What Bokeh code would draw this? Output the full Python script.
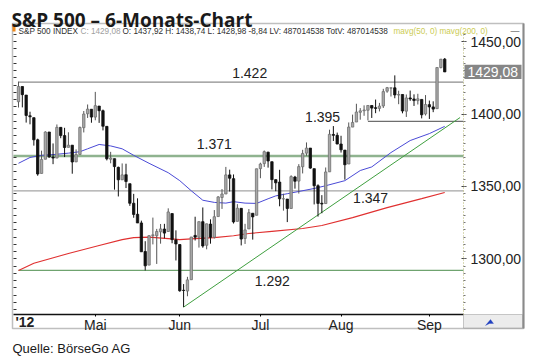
import numpy as np
from bokeh.plotting import figure
from bokeh.models import (Range1d, LinearAxis, FixedTicker, Label, BoxAnnotation,
                          PolyAnnotation, ColumnDataSource)
from bokeh.embed import file_html
from bokeh.resources import INLINE

# ---------------- data ----------------
month_names = ["Apr", "Mai", "Jun", "Jul", "Aug", "Sep"]
month_days = {
    "Apr": [2, 3, 4, 5, 9, 10, 11, 12, 13, 16, 17, 18, 19, 20, 23, 24, 25, 26, 27, 30],
    "Mai": [1, 2, 3, 4, 7, 8, 9, 10, 11, 14, 15, 16, 17, 18, 21, 22, 23, 24, 25, 29, 30, 31],
    "Jun": [1, 4, 5, 6, 7, 8, 11, 12, 13, 14, 15, 18, 19, 20, 21, 22, 25, 26, 27, 28, 29],
    "Jul": [2, 3, 5, 6, 9, 10, 11, 12, 13, 16, 17, 18, 19, 20, 23, 24, 25, 26, 27, 30, 31],
    "Aug": [1, 2, 3, 6, 7, 8, 9, 10, 13, 14, 15, 16, 17, 20, 21, 22, 23, 24, 27, 28, 29, 30, 31],
    "Sep": [4, 5, 6, 7, 10],
}
tick_months = ["Mai", "Jun", "Jul", "Aug", "Sep"]
year_label = "'12"

opens = [1408.5, 1419.0, 1413.1, 1398.8, 1397.5, 1382.2, 1359.0, 1368.8, 1387.6, 1370.3,
         1369.6, 1390.8, 1385.1, 1377.0, 1378.5, 1367.0, 1372.1, 1390.6, 1400.2, 1403.3,
         1397.9, 1405.5, 1402.3, 1391.5, 1368.8, 1369.2, 1363.2, 1354.6, 1358.1, 1351.9,
         1338.4, 1330.8, 1324.8, 1305.1, 1295.7, 1316.1, 1316.0, 1318.7, 1320.6, 1318.9,
         1331.3, 1313.1,
         1309.9, 1278.3, 1277.8, 1285.6, 1316.2, 1315.0, 1325.7, 1309.4, 1324.0, 1314.9,
         1329.2, 1342.4, 1344.8, 1358.0, 1355.4, 1325.9, 1334.9, 1314.1, 1320.7, 1331.5,
         1330.1,
         1362.3, 1365.8, 1373.7, 1367.1, 1354.7, 1353.0, 1341.4, 1341.3, 1334.8, 1356.5,
         1353.7, 1363.6, 1373.0, 1376.5, 1362.3, 1350.5, 1338.4, 1338.2, 1360.1, 1385.9,
         1385.3,
         1379.3, 1375.1, 1365.5, 1391.0, 1394.5, 1401.2, 1402.3, 1402.6, 1405.9, 1404.4,
         1403.9, 1405.6, 1415.8, 1417.9, 1418.1, 1413.1, 1413.5, 1402.0, 1411.1, 1410.4,
         1409.3, 1410.1, 1400.1,
         1406.5, 1404.9, 1403.7, 1432.1, 1437.9]
highs = [1422.4, 1419.0, 1413.1, 1401.6, 1397.5, 1383.0, 1374.7, 1388.1, 1387.6, 1379.7,
         1392.8, 1390.8, 1390.5, 1387.4, 1378.5, 1375.6, 1391.4, 1402.1, 1406.6, 1403.3,
         1415.3, 1405.5, 1403.1, 1391.5, 1373.9, 1369.2, 1363.7, 1365.9, 1365.7, 1351.9,
         1344.9, 1341.8, 1326.4, 1312.2, 1316.4, 1328.5, 1320.7, 1324.1, 1324.2, 1334.9,
         1331.3, 1319.7,
         1309.9, 1282.6, 1287.6, 1315.1, 1329.1, 1325.8, 1335.5, 1324.3, 1327.3, 1333.7,
         1343.3, 1348.2, 1363.5, 1361.6, 1358.3, 1337.8, 1334.9, 1324.2, 1334.4, 1331.5,
         1362.2,
         1366.4, 1374.8, 1373.9, 1367.1, 1354.9, 1361.5, 1345.0, 1341.3, 1357.7, 1357.3,
         1365.4, 1375.3, 1380.4, 1376.5, 1362.3, 1351.5, 1344.0, 1363.1, 1389.2, 1391.7,
         1387.2,
         1385.0, 1375.1, 1394.2, 1399.6, 1407.1, 1404.1, 1406.0, 1406.0, 1405.9, 1410.0,
         1407.7, 1417.4, 1418.7, 1418.1, 1426.7, 1416.1, 1413.5, 1413.5, 1416.2, 1413.6,
         1414.0, 1410.1, 1413.1,
         1409.3, 1408.8, 1432.1, 1437.9, 1438.7]
lows = [1404.5, 1404.6, 1394.1, 1392.9, 1378.2, 1357.4, 1359.0, 1368.8, 1369.9, 1365.4,
        1369.6, 1383.3, 1370.3, 1377.0, 1358.8, 1366.8, 1372.1, 1387.3, 1397.3, 1394.0,
        1395.7, 1393.9, 1388.7, 1368.0, 1366.0, 1347.8, 1343.1, 1354.6, 1348.9, 1336.6,
        1328.4, 1324.8, 1304.9, 1292.0, 1295.7, 1310.0, 1296.5, 1310.5, 1314.2, 1318.9,
        1310.8, 1298.9,
        1277.3, 1266.7, 1274.2, 1285.6, 1312.7, 1307.8, 1307.7, 1306.6, 1310.5, 1314.1,
        1329.2, 1334.5, 1344.8, 1346.5, 1324.4, 1325.9, 1309.3, 1310.3, 1320.7, 1313.3,
        1330.1,
        1355.7, 1363.5, 1363.0, 1348.0, 1346.7, 1336.3, 1333.3, 1325.4, 1334.8, 1348.5,
        1345.1, 1359.0, 1371.2, 1362.2, 1337.6, 1329.2, 1331.5, 1338.2, 1360.1, 1381.4,
        1379.2,
        1373.4, 1354.7, 1365.5, 1391.0, 1394.5, 1396.1, 1398.8, 1395.6, 1397.3, 1400.6,
        1401.8, 1404.2, 1414.7, 1412.1, 1410.9, 1406.8, 1400.5, 1398.0, 1409.1, 1405.6,
        1406.6, 1397.0, 1399.0,
        1396.6, 1401.3, 1403.7, 1431.5, 1429.0]
closes = [1419.0, 1413.4, 1399.0, 1398.1, 1382.2, 1358.6, 1368.7, 1387.6, 1370.3, 1369.6,
          1390.8, 1385.1, 1376.9, 1378.5, 1366.9, 1372.0, 1390.7, 1400.0, 1403.4, 1397.9,
          1405.8, 1402.3, 1391.6, 1369.1, 1369.6, 1363.7, 1354.6, 1358.0, 1353.4, 1338.4,
          1330.7, 1324.8, 1304.9, 1295.2, 1316.0, 1316.6, 1318.9, 1320.7, 1317.8, 1332.4,
          1313.3, 1310.3,
          1278.0, 1278.2, 1285.5, 1315.1, 1315.0, 1325.7, 1308.9, 1324.2, 1314.9, 1329.1,
          1342.8, 1344.8, 1358.0, 1355.7, 1325.5, 1335.0, 1313.7, 1320.0, 1331.9, 1329.0,
          1362.2,
          1365.5, 1374.0, 1367.6, 1354.7, 1352.5, 1341.5, 1341.5, 1334.8, 1356.8, 1353.6,
          1363.7, 1372.8, 1376.5, 1362.7, 1350.5, 1338.3, 1337.9, 1360.0, 1386.0, 1385.3,
          1379.3,
          1375.3, 1365.0, 1391.0, 1394.2, 1401.4, 1402.2, 1402.8, 1405.9, 1404.1, 1403.9,
          1405.5, 1415.5, 1418.2, 1418.1, 1413.2, 1413.5, 1402.1, 1411.1, 1410.4, 1409.3,
          1410.5, 1399.5, 1406.6,
          1404.9, 1403.4, 1432.1, 1437.9, 1429.1]

# moving averages (trading-day index, value)
ma50_idx = [0, 3, 6, 9, 13, 16, 18, 21, 24, 27, 30, 34, 39, 42, 45, 48, 51, 54, 56, 59,
            62, 65, 67, 70, 77, 80, 85, 89, 92, 97, 102, 107, 111]
ma50_val = [1366.0, 1370.0, 1371.5, 1372.0, 1373.0, 1374.0, 1376.0, 1379.0, 1378.0, 1376.0,
            1371.5, 1366.0, 1359.5, 1354.0, 1347.0, 1340.5, 1339.0, 1338.5, 1339.5, 1338.5,
            1338.3, 1341.5, 1343.5, 1345.0, 1348.6, 1350.5, 1354.0, 1361.0, 1363.5, 1373.4,
            1381.7, 1386.5, 1391.5]
ma200_idx = [0, 4, 13, 21, 27, 30, 34, 39, 42, 46, 51, 56, 60, 66, 74, 79, 87, 96, 105, 111]
ma200_val = [1292.0, 1297.0, 1303.7, 1309.2, 1313.3, 1314.7, 1315.0, 1314.0, 1313.3, 1314.0,
             1314.7, 1316.0, 1317.5, 1319.0, 1321.0, 1323.0, 1328.5, 1335.4, 1341.6, 1345.8]

# support / resistance levels and trend line
levels = [1422, 1395, 1371, 1347, 1292]
level_labels = ["1.422", "1.395", "1.371", "1.347", "1.292"]
level_start_idx = [0, 91, -1.3, -1.3, 0]
trend_idx = [43, 115]
trend_val = [1266.7, 1397.6]

last_close = 1429.08
y_ticks = [1300, 1350, 1400, 1450]

header_parts = [
    ("S&P 500 INDEX", "#2e2e2e"),
    ("C: 1429,08", "#a0a0a0"),
    ("O: 1437,92 H: 1438,74 L: 1428,98 -8,84 LV: 487014538 TotV: 487014538", "#2e2e2e"),
    ("mavg(50, 0) mavg(200, 0)", "#cccc55"),
]

# ---------------- derived ----------------
dates = []
for m in month_names:
    for d in month_days[m]:
        dates.append((m, d))
N = len(dates)
x = np.arange(N)
o = np.array(opens); h = np.array(highs); l = np.array(lows); c = np.array(closes)
up = c >= o
month_first = {}
for i, (m, d) in enumerate(dates):
    month_first.setdefault(m, i)

src = ColumnDataSource(dict(
    x=x, top=np.maximum(o, c), bottom=np.minimum(o, c), high=h, low=l,
    fill=np.where(up, "#a8a8a8", "#111111"),
    line=np.where(up, "#707070", "#111111"),
    wick=np.where(up, "#555555", "#111111"),
))

FONT = "Liberation Sans"
W, H = 540, 363
FL, FT, FR, FB = 13, 32, 463, 314          # chart area edges in page pixels
X0, X1 = -1.30, 115.89                      # data values at the chart area edges
Y0, Y1 = 1261.6, 1456.3
kx = (FR - FL) / (X1 - X0)
ky = (FB - FT) / (Y1 - Y0)
XA, XB = X0 - FL / kx, X1 + (W - FR) / kx   # whole canvas acts as the frame
YA, YB = Y0 - (H - FB) / ky, Y1 + FT / ky

p = figure(width=W, height=H, x_range=Range1d(XA, XB), y_range=Range1d(YA, YB),
           output_backend="svg", toolbar_location=None,
           x_axis_location=None, y_axis_location=None,
           min_border_left=0, min_border_right=0, min_border_top=0, min_border_bottom=0)
p.grid.visible = False
p.outline_line_color = None
p.background_fill_color = "white"
p.border_fill_color = "white"

def sx(X):
    return X

def sy(Y):
    return H - Y

# axes (fixed inside the frame)
ra = LinearAxis(ticker=FixedTicker(ticks=y_ticks, minor_ticks=list(range(1265, 1456, 5))),
                major_label_overrides={t: f"{t},00" for t in y_ticks},
                fixed_location=X1, bounds=(Y0, Y1))
ra.axis_line_color = "#b4b46e"
ra.axis_line_dash = "1 2"
ra.major_tick_in = 2
ra.major_tick_out = 3
ra.major_tick_line_color = "#444444"
ra.minor_tick_in = 0
ra.minor_tick_out = 2
ra.minor_tick_line_color = "#777777"
ra.major_label_standoff = 4
ra.major_label_text_font = FONT
ra.major_label_text_font_size = "14px"
ra.major_label_text_color = "#222222"
p.add_layout(ra, "right")

la = LinearAxis(ticker=FixedTicker(ticks=[], minor_ticks=list(range(1265, 1456, 5))),
                fixed_location=X0, bounds=(Y0, Y1))
la.axis_line_color = None
la.minor_tick_in = 3
la.minor_tick_out = 0
la.minor_tick_line_color = "#333333"
la.major_label_text_font_size = "0px"
la.major_label_standoff = 0
la.major_tick_out = 0
p.add_layout(la, "left")

ba = LinearAxis(ticker=FixedTicker(ticks=[month_first[m] for m in tick_months]),
                major_label_overrides={month_first[m]: m for m in tick_months},
                fixed_location=Y0, bounds=(X0, X1))
ba.axis_line_color = "#111111"
ba.axis_line_width = 1.5
ba.major_tick_in = 0
ba.major_tick_out = 2
ba.minor_tick_out = 0
ba.major_label_standoff = 0
ba.major_label_text_font = FONT
ba.major_label_text_font_size = "14px"
ba.major_label_text_color = "#222222"
p.add_layout(ba, "below")

# level lines
lvl_colors = ["#8c8c8c", "#6e6e6e", "#8fb38f", "#a5a5a5", "#6fa36f"]
lvl_widths = [1.2, 1.2, 2.5, 1.2, 1.3]
for lv, st, col, w in zip(levels, level_start_idx, lvl_colors, lvl_widths):
    p.segment(x0=st, y0=lv, x1=X1, y1=lv, line_color=col, line_width=w)

# moving averages and trend line
p.line(ma200_idx, ma200_val, line_color="#e03030", line_width=1.1)
p.line(ma50_idx, ma50_val, line_color="#4a4ad6", line_width=1.0)
p.line(trend_idx, trend_val, line_color="#3f9f3f", line_width=1.0)

# candles
p.segment(x0="x", y0="high", x1="x", y1="low", line_color="wick", line_width=1, source=src)
p.vbar(x="x", width=0.62, top="top", bottom="bottom", fill_color="fill",
       line_color="line", line_width=0.8, source=src)

# level labels (positions in data space)
lbl_pos = {"1.422": (60.2, 1428.0), "1.371": (51.0, 1379.0), "1.395": (79.2, 1398.3),
           "1.347": (91.7, 1341.7), "1.292": (66.1, 1284.4)}
for t in level_labels:
    xx, yy = lbl_pos[t]
    p.add_layout(Label(x=xx, y=yy, text=t, text_font=FONT, text_font_size="14px",
                       text_color="#222222", text_align="center", text_baseline="middle"))

def sbox(X0_, X1_, Y0_, Y1_, **kw):
    return BoxAnnotation(left=sx(X0_), right=sx(X1_), top=sy(Y0_), bottom=sy(Y1_),
                         left_units="screen", right_units="screen", top_units="screen",
                         bottom_units="screen", **kw)

# outer chart box, x-axis strip, corner cell
p.add_layout(sbox(12, 523, 23, 328, fill_alpha=0, line_color="#2a2a2a", line_width=1.5))
p.add_layout(sbox(463, 522, 314, 327.5, fill_color="#ececec", fill_alpha=1,
                  line_color="#555555", line_width=1))
p.add_layout(PolyAnnotation(xs=[sx(485), sx(490), sx(493), sx(489)],
                            ys=[sy(325), sy(319), sy(323), sy(323)],
                            xs_units="screen", ys_units="screen", fill_color="#2040c0",
                            fill_alpha=1, line_color="#2040c0", line_width=1))
p.add_layout(sbox(12, 15, 23.5, 31, fill_color="#f08a1c", fill_alpha=1, line_alpha=0))
p.add_layout(sbox(522, 524, 23, 328, fill_color="#8a8a8a", fill_alpha=1, line_alpha=0))

# last price box on the right axis
p.add_layout(BoxAnnotation(left=sx(464), right=sx(521), top=last_close + 4.9,
                           bottom=last_close - 4.9, left_units="screen",
                           right_units="screen", fill_color="#868686", fill_alpha=1,
                           line_alpha=0))
p.add_layout(Label(x=sx(467), x_units="screen", y=last_close,
                   text=f"{last_close:.2f}".replace(".", ","),
                   text_font=FONT, text_font_size="14px", text_color="white",
                   text_baseline="middle"))

# year label at the start of the time axis
p.add_layout(Label(x=sx(15), y=sy(321.5), x_units="screen", y_units="screen", text=year_label,
                   text_font=FONT, text_font_size="14px", text_font_style="bold",
                   text_color="#222222", text_baseline="middle"))

# header line inside the chart box
hx = [18, 80, 122, 393]
for (txt, col), X in zip(header_parts, hx):
    p.add_layout(Label(x=sx(X), y=sy(31), x_units="screen", y_units="screen", text=txt,
                       text_font=FONT, text_font_size="8.2px", text_color=col,
                       text_baseline="alphabetic"))
p.add_layout(Label(x=sx(510), y=sy(30), x_units="screen", y_units="screen", text="—",
                   text_font=FONT, text_font_size="9px", text_color="#444444",
                   text_baseline="alphabetic"))

# title and source
p.add_layout(Label(x=sx(11), y=sy(19), x_units="screen", y_units="screen",
                   text="S&P 500 – 6-Monats-Chart", text_font="Open Sans",
                   text_font_size="19px", text_font_style="bold", text_color="#1a1a1a",
                   text_baseline="alphabetic"))
p.add_layout(Label(x=sx(12), y=sy(348), x_units="screen", y_units="screen",
                   text="Quelle: BörseGo AG", text_font=FONT,
                   text_font_size="13px", text_color="#1a1a1a",
                   text_baseline="alphabetic"))

open("out.html", "w").write(file_html(p, INLINE))
